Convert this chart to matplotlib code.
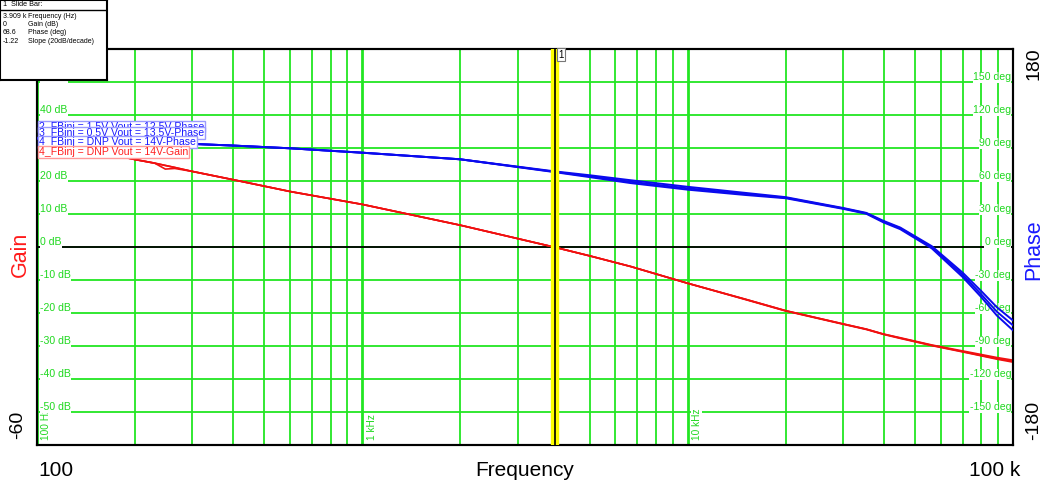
"""
Bode plot: gain and phase against frequency, with slide bar read-out
"""
import matplotlib
matplotlib.use('Agg')

import matplotlib.pyplot as plt
from matplotlib.ticker import NullFormatter

plt.rcParams['font.family'] = ['Liberation Sans', 'DejaVu Sans']

W, H = 1050, 495

# frequency points (Hz)
freq = [100, 150, 200, 230, 248, 265, 300, 400, 600, 1000, 2000, 3909, 5000, 6670,
        10000, 15000, 20000, 30000, 35400, 40000, 45000, 56300, 70000, 80000, 89200,
        100000]

# gain curves (dB)
gain_a = [33.0, 29.2, 26.6, 25.5, 24.8, 24.2, 23.0, 20.5, 16.9, 13.0, 6.7, 0.0, -2.6,
          -5.8, -10.9, -15.7, -19.2, -23.2, -24.8, -26.3, -27.4, -29.6, -31.4, -32.5,
          -33.4, -34.2]
gain_b = [33.0, 29.2, 26.6, 25.5, 23.7, 23.9, 23.0, 20.5, 16.9, 13.0, 6.7, 0.0, -2.6,
          -5.8, -10.9, -15.8, -19.3, -23.3, -24.9, -26.4, -27.6, -29.8, -31.7, -32.9,
          -33.9, -34.8]
gain_c = [33.0, 29.2, 26.6, 25.5, 24.8, 24.2, 23.0, 20.5, 16.9, 13.0, 6.7, 0.0, -2.6,
          -5.8, -10.9, -15.7, -19.2, -23.2, -24.8, -26.3, -27.5, -29.7, -31.6, -32.8,
          -33.7, -34.5]

# phase curves (deg)
phase_2 = [99, 97.5, 96, 95.5, 95.2, 94.8, 94, 92.5, 90, 86, 80, 69.0, 65.5, 61.0,
           55.0, 49.5, 45.6, 35.8, 31.3, 24.0, 18.0, 1.0, -23.0, -40.0, -54.5, -66.5]
phase_3 = [99, 97.5, 96, 95.5, 95.2, 94.8, 94, 92.5, 90, 86, 80, 68.6, 64.5, 59.6,
           53.6, 48.5, 45.1, 35.4, 30.9, 23.3, 17.3, 0.0, -25.0, -43.0, -58.5, -71.0]
phase_4 = [99, 97.5, 96, 95.5, 95.2, 94.8, 94, 92.5, 90, 86, 80, 68.3, 63.8, 58.4,
           52.4, 47.6, 44.6, 35.0, 30.5, 22.6, 16.5, -1.0, -27.0, -45.5, -62.0, -75.5]

gain_ticks = [50, 40, 30, 20, 10, 0, -10, -20, -30, -40, -50]
phase_ticks = [150, 120, 90, 60, 30, 0, -30, -60, -90, -120, -150]
freq_marks = [(100, '100 Hz'), (1000, '1 kHz'), (10000, '10 kHz')]

slider_f = 3909
readout = [('3.909 k', 'Frequency (Hz)'), ('0', 'Gain (dB)'),
           ('68.6', 'Phase (deg)'), ('-1.22', 'Slope (20dB/decade)')]
legend_rows = [('2_FBinj = 1.5V Vout = 12.5V-Phase', 'blue'),
               ('3_FBinj = 0.5V Vout = 13.5V-Phase', 'blue'),
               ('4_FBinj = DNP Vout = 14V-Phase', 'blue'),
               ('4_FBinj = DNP Vout = 14V-Gain', 'red')]

GREEN = '#22e622'
GLABEL = '#1fd81f'

fig = plt.figure(figsize=(W / 100, H / 100), dpi=100)
fig.patch.set_facecolor('white')

left, right, top, bottom = 37, 1013, 49.3, 445.3
ax = fig.add_axes([left / W, 1 - bottom / H, (right - left) / W, (bottom - top) / H])
ax.set_xscale('log')
ax.set_xlim(100, 1e5)
ax.set_ylim(-60, 60)
ax.set_yticks(range(-60, 61, 10))
ax.xaxis.set_minor_formatter(NullFormatter())
ax.tick_params(which='both', length=0, labelbottom=False, labelleft=False)
ax.set_axisbelow(True)
ax.grid(True, which='major', axis='x', color=GREEN, lw=2.0)
ax.grid(True, which='minor', axis='x', color=GREEN, lw=1.3)
ax.grid(True, which='major', axis='y', color=GREEN, lw=1.3)
ax.axhline(0, color='black', lw=1.3, zorder=1)

# in-plot frequency labels
for f, txt in freq_marks:
    ax.text(f * 1.03, -58.5, txt, rotation=90, ha='left', va='bottom', color=GLABEL,
            fontsize=7.3, zorder=2,
            bbox=dict(facecolor='white', edgecolor='none', pad=0.3))

ytr = ax.get_yaxis_transform()
for g in gain_ticks:
    ax.text(0.003, g, '%d dB' % g, transform=ytr, ha='left', va='bottom', color=GLABEL,
            fontsize=7.6, zorder=2,
            bbox=dict(facecolor='white', edgecolor='none', pad=0.3))
for p in phase_ticks:
    ax.text(0.998, p / 3.0, '%d deg' % p, transform=ytr, ha='right', va='bottom',
            color=GLABEL, fontsize=7.6, zorder=2,
            bbox=dict(facecolor='white', edgecolor='none', pad=0.3))

for g in (gain_a, gain_b, gain_c):
    ax.plot(freq, g, color='#f01010', lw=1.2, zorder=4)

ax2 = ax.twinx()
ax2.set_ylim(-180, 180)
ax2.tick_params(which='both', length=0, labelright=False)
for p in (phase_2, phase_3, phase_4):
    ax2.plot(freq, p, color='#0a0aee', lw=1.4, zorder=4)

ax2.axvline(slider_f, color='#ffff00', lw=6, zorder=6)
ax2.axvline(slider_f, color='black', lw=1.2, zorder=7)

for a in (ax, ax2):
    for s in a.spines.values():
        s.set_linewidth(1.5)
        s.set_color('black')

fig.text(561 / W, 1 - 54.5 / H, '1', ha='center', va='center', fontsize=7,
         bbox=dict(facecolor='white', edgecolor='#777777', pad=1.2, lw=0.8))

# legend boxes, stacked
leg_y = [126.5, 132.7, 142.2, 152]
for (txt, col), y in zip(legend_rows, leg_y):
    if col == 'blue':
        tc, ec = '#1a1aff', '#9a9aff'
    else:
        tc, ec = '#ff2020', '#ff9a9a'
    fig.text(39 / W, 1 - y / H, txt, ha='left', va='center', color=tc, fontsize=7.6,
             bbox=dict(facecolor='white', edgecolor=ec, pad=0.6, lw=1.0))

# outer labels
fig.text(20 / W, 1 - 254 / H, 'Gain', rotation=90, ha='center', va='center',
         color='#ff1a1a', fontsize=15.5)
fig.text(18 / W, 1 - 425 / H, '-60', rotation=90, ha='center', va='center', fontsize=14)
fig.text(1034 / W, 1 - 250 / H, 'Phase', rotation=90, ha='center', va='center',
         color='#1a1aff', fontsize=15.5)
fig.text(1034 / W, 1 - 64 / H, '180', rotation=90, ha='center', va='center', fontsize=14)
fig.text(1034 / W, 1 - 420 / H, '-180', rotation=90, ha='center', va='center', fontsize=14)
fig.text(56 / W, 1 - 470 / H, '100', ha='center', va='center', fontsize=15)
fig.text(525 / W, 1 - 470 / H, 'Frequency', ha='center', va='center', fontsize=15)
fig.text(995 / W, 1 - 470 / H, '100 k', ha='center', va='center', fontsize=15)

# slide bar read-out box
bx = fig.add_axes([0, 1 - 80 / H, 107 / W, 80 / H], zorder=10)
bx.set_xlim(0, 107)
bx.set_ylim(80, 0)
bx.set_xticks([])
bx.set_yticks([])
bx.set_facecolor('white')
for s in bx.spines.values():
    s.set_linewidth(1.5)
bx.axhline(10, color='black', lw=1.0)
bx.text(3, 5, '1  Slide Bar:', fontsize=5.2, va='center', ha='left')
for i, (v, d) in enumerate(readout):
    yy = 16 + i * 8.5
    bx.text(3, yy, v, fontsize=5.0, va='center', ha='left')
    bx.text(28, yy, d, fontsize=5.0, va='center', ha='left')

fig.savefig('out.png', dpi=100)
